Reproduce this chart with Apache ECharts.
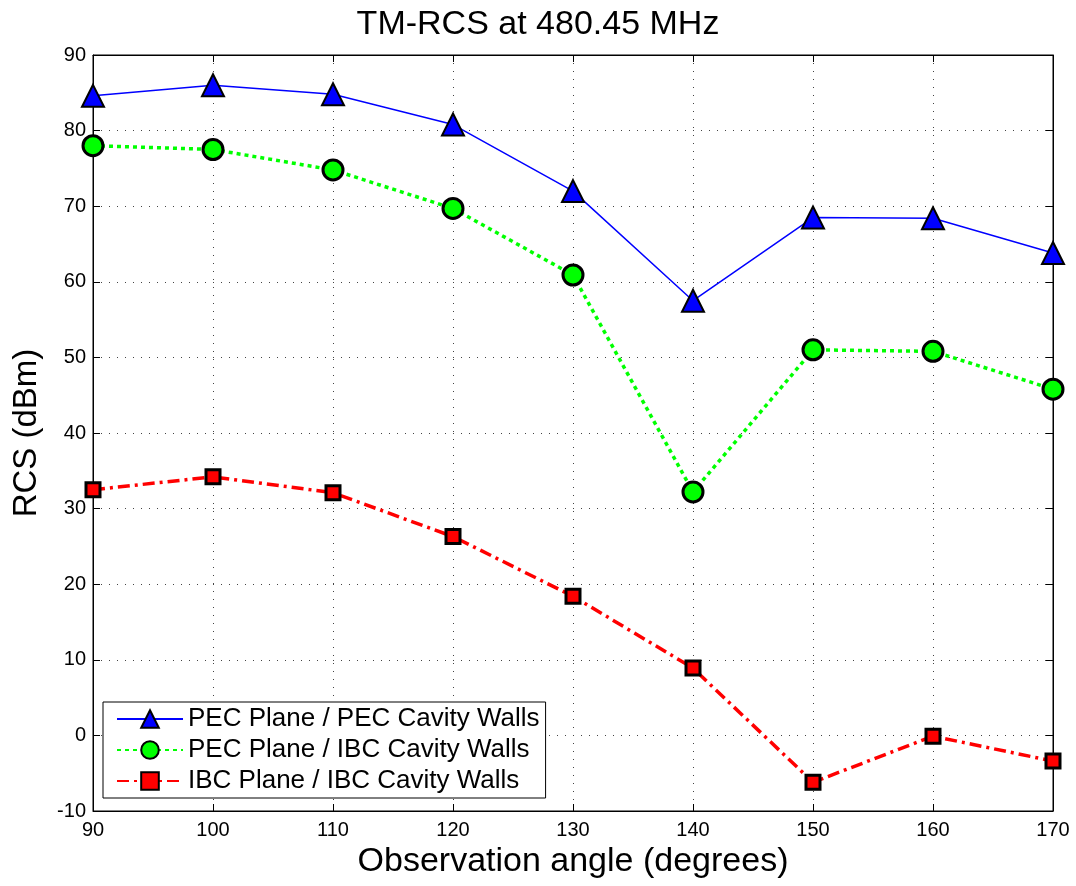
<!DOCTYPE html>
<html style="height: 100%">
<head>
<meta charset="utf-8">
<title>TM-RCS at 480.45 MHz</title>
<script src="https://cdn.jsdelivr.net/npm/echarts@6/dist/echarts.min.js"></script>
</head>
<body style="height: 100%; margin: 0; background: #fff">
<div id="container" style="width: 1076px; height: 886px"></div>
<script type="text/javascript">
// observation angles (degrees)
let angles = [90, 100, 110, 120, 130, 140, 150, 160, 170];
// RCS values (dBm)
let pecPec = [84.6, 86.0, 84.8, 80.8, 72.0, 57.5, 68.5, 68.4, 63.8];
let pecIbc = [78.0, 77.5, 74.8, 69.7, 60.9, 32.2, 51.0, 50.8, 45.8];
let ibcIbc = [32.5, 34.2, 32.1, 26.3, 18.4, 8.9, -6.2, -0.1, -3.4];
let seriesNames = ['PEC Plane / PEC Cavity Walls', 'PEC Plane / IBC Cavity Walls', 'IBC Plane / IBC Cavity Walls'];

let font = 'Liberation Sans, Arial, sans-serif';
let chart = echarts.init(document.getElementById('container'));

function pairs(vals) {
    return angles.map(function (a, i) { return [a, vals[i]]; });
}

let tick = {inside: true, length: 7, lineStyle: {color: '#000'}};
let dotted = {show: true, lineStyle: {color: '#444', type: [1, 7], width: 1}};

chart.setOption({
    animation: false,
    backgroundColor: '#fff',
    title: {
        text: 'TM-RCS at 480.45 MHz',
        left: 'center', top: 3,
        textStyle: {fontFamily: font, fontSize: 34, fontWeight: 'normal', color: '#000'}
    },
    grid: {
        left: 93, right: 23, top: 55, bottom: 75,
        show: true, borderColor: '#000', borderWidth: 1
    },
    legend: {
        orient: 'vertical',
        left: 103, top: 702,
        padding: [4, 6, 4, 13],
        itemGap: 5,
        itemWidth: 66, itemHeight: 22,
        backgroundColor: '#fff',
        borderColor: '#000', borderWidth: 1, borderRadius: 0,
        textStyle: {fontFamily: font, fontSize: 26, color: '#000'},
        data: seriesNames
    },
    xAxis: [{
        type: 'value', min: 90, max: 170, interval: 10,
        name: 'Observation angle (degrees)',
        nameLocation: 'middle', nameGap: 31,
        nameTextStyle: {fontFamily: font, fontSize: 34, color: '#000'},
        axisLine: {onZero: false, lineStyle: {color: '#000'}},
        axisTick: tick,
        axisLabel: {fontFamily: font, fontSize: 20, color: '#000', margin: 9},
        splitLine: dotted
    }, {
        type: 'value', min: 90, max: 170, interval: 10, position: 'top',
        axisLine: {onZero: false, lineStyle: {color: '#000'}},
        axisTick: tick, axisLabel: {show: false}, splitLine: {show: false}
    }],
    yAxis: [{
        type: 'value', min: -10, max: 90, interval: 10,
        name: 'RCS (dBm)',
        nameLocation: 'middle', nameGap: 50,
        nameTextStyle: {fontFamily: font, fontSize: 33, color: '#000'},
        axisLine: {onZero: false, lineStyle: {color: '#000'}},
        axisTick: tick,
        axisLabel: {fontFamily: font, fontSize: 20, color: '#000', margin: 7},
        splitLine: dotted
    }, {
        type: 'value', min: -10, max: 90, interval: 10, position: 'right',
        axisLine: {onZero: false, lineStyle: {color: '#000'}},
        axisTick: tick, axisLabel: {show: false}, splitLine: {show: false}
    }],
    series: [
        {
            name: seriesNames[0], type: 'line', data: pairs(pecPec),
            symbol: 'triangle', symbolSize: 22,
            itemStyle: {color: '#0000ff', borderColor: '#000', borderWidth: 2},
            lineStyle: {color: '#0000ff', width: 1.5, type: 'solid'},
            z: 4
        },
        {
            name: seriesNames[1], type: 'line', data: pairs(pecIbc),
            symbol: 'circle', symbolSize: 20,
            itemStyle: {color: '#00ff00', borderColor: '#000', borderWidth: 3},
            lineStyle: {color: '#00ff00', width: 3.5, type: [4, 4]},
            z: 3
        },
        {
            name: seriesNames[2], type: 'line', data: pairs(ibcIbc),
            symbol: 'rect', symbolSize: 14,
            itemStyle: {color: '#ff0000', borderColor: '#000', borderWidth: 3},
            lineStyle: {color: '#ff0000', width: 3.5, type: [12, 5, 3, 5]},
            z: 2
        }
    ]
});
</script>
</body>
</html>
